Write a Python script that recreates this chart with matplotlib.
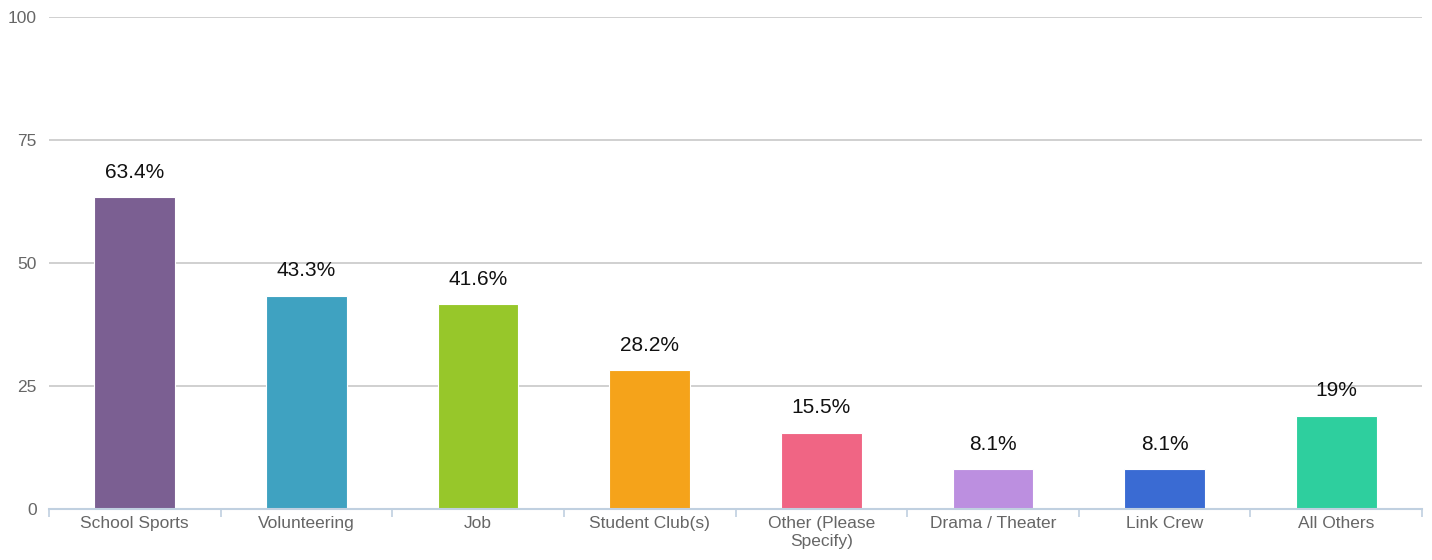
import numpy as np
import matplotlib.pyplot as plt

categories = ['School Sports', 'Volunteering', 'Job', 'Student Club(s)',
              'Other (Please\nSpecify)', 'Drama / Theater', 'Link Crew', 'All Others']
values = [63.4, 43.3, 41.6, 28.2, 15.5, 8.1, 8.1, 19]
labels = ['63.4%', '43.3%', '41.6%', '28.2%', '15.5%', '8.1%', '8.1%', '19%']
colors = ['#7b5f92', '#3fa2c1', '#97c72a', '#f5a31a',
          '#f06584', '#bc8fe0', '#3a6bd3', '#2ecf9e']
y_ticks = [0, 25, 50, 75, 100]

plt.rcParams['font.family'] = ['Liberation Sans', 'DejaVu Sans']

fig = plt.figure(figsize=(14.32, 5.6), dpi=100)
ax = fig.add_axes([49 / 1432, 1 - 509 / 560, (1422 - 49) / 1432, (509 - 17) / 560])

x = np.arange(len(categories))
bars = ax.bar(x, values, width=0.47, color=colors, edgecolor='white', linewidth=0.8, zorder=3)

for bar, lab in zip(bars, labels):
    ax.annotate(lab, (bar.get_x() + bar.get_width() / 2, bar.get_height()),
                xytext=(0, 18), textcoords='offset points',
                ha='center', va='center', fontsize=15, color='#111111')

ax.set_xlim(-0.5, len(categories) - 0.5)
ax.set_ylim(0, 100)
ax.set_yticks(y_ticks)
ax.set_yticklabels([str(t) for t in y_ticks])
ax.yaxis.grid(True, color='#c8c8c8', linewidth=1.2, zorder=0)
ax.tick_params(axis='y', length=0, pad=9, labelsize=12.5, labelcolor='#666666')

ax.set_xticks(x)
ax.set_xticklabels(categories, fontsize=12.5, color='#666666', linespacing=1.25)
ax.set_xticks(np.arange(-0.5, len(categories), 1), minor=True)
ax.tick_params(axis='x', which='major', length=0, pad=5)
ax.tick_params(axis='x', which='minor', length=6, color='#c0d0e0', width=1.2)

for side in ['top', 'right', 'left']:
    ax.spines[side].set_visible(False)
ax.spines['bottom'].set_color('#c0d0e0')
ax.spines['bottom'].set_linewidth(1.5)
ax.spines['bottom'].set_zorder(4)

fig.savefig('out.png', dpi=100)
